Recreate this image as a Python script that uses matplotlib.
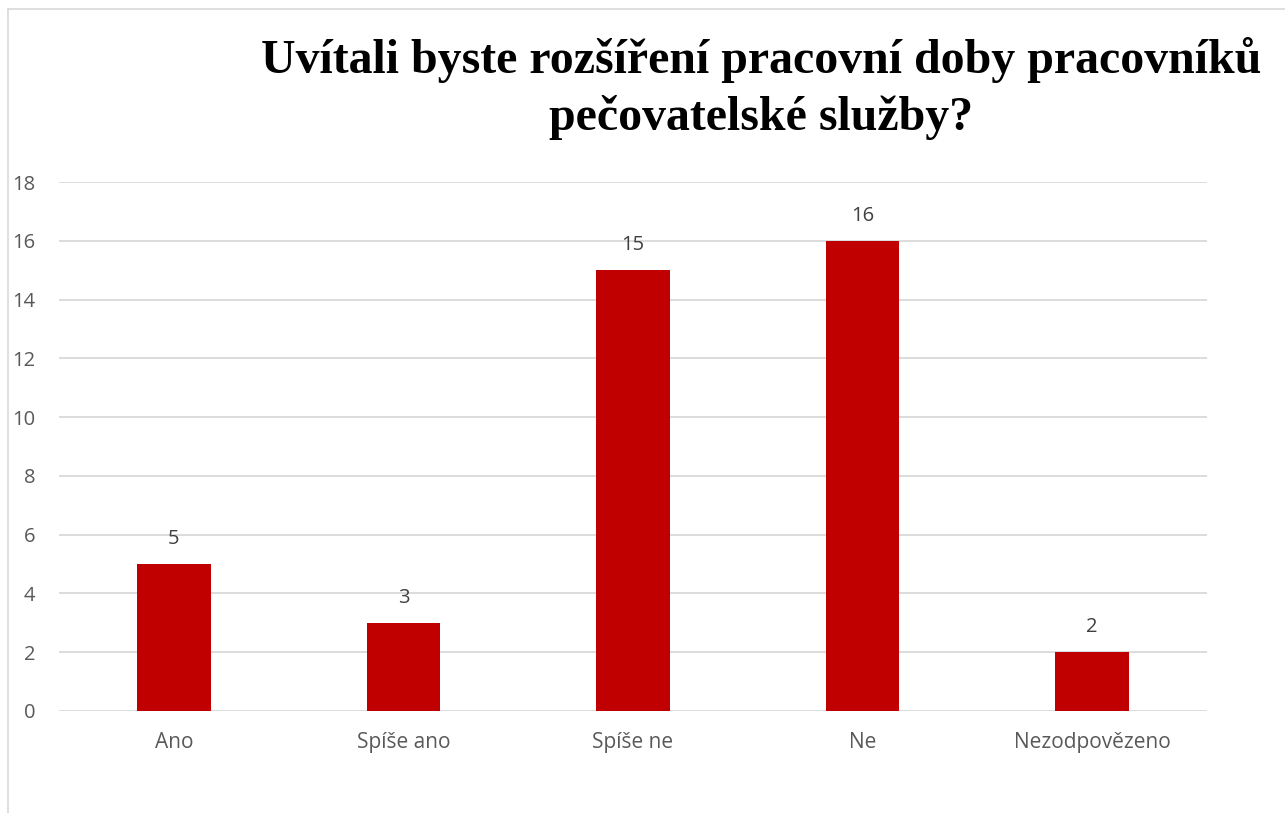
import matplotlib.pyplot as plt
from matplotlib.lines import Line2D

# answers to the survey question
categories = ["Ano", "Spíše ano", "Spíše ne", "Ne", "Nezodpovězeno"]
counts = [5, 3, 15, 16, 2]
y_ticks = [0, 2, 4, 6, 8, 10, 12, 14, 16, 18]
title_lines = ["Uvítali byste rozšíření pracovní doby pracovníků",
               "pečovatelské služby?"]

fig = plt.figure(figsize=(12.85, 8.13), dpi=100)
ax = fig.add_axes([0.0459, 0.1255, 0.8934, 0.6506])

# bars with value labels on top
x = list(range(len(categories)))
bars = ax.bar(x, counts, width=0.32, color="#C00000", zorder=3)
for rect, val in zip(bars, counts):
    ax.annotate(str(val), (rect.get_x() + rect.get_width() / 2, val),
                xytext=(0, 11), textcoords="offset points",
                ha="center", va="bottom", fontsize=14.5,
                family="Open Sans", color="#404040")

ax.set_xlim(-0.5, len(categories) - 0.5)
ax.set_ylim(0, 18)
ax.set_yticks(y_ticks)
ax.set_xticks(x)
ax.set_xticklabels(categories)
ax.yaxis.grid(True, color="#D9D9D9", linewidth=1.3, zorder=0)
ax.set_axisbelow(True)
for s in ax.spines.values():
    s.set_visible(False)
ax.tick_params(axis="both", length=0, labelcolor="#595959")
ax.tick_params(axis="y", pad=17, labelsize=14.5)
ax.tick_params(axis="x", pad=15, labelsize=15)
for lab in ax.get_xticklabels() + ax.get_yticklabels():
    lab.set_family("Open Sans")

# title, two lines centred over the right part like the original
for line, y in zip(title_lines, [1 - 73 / 813, 1 - 130 / 813]):
    fig.text(0.592, y, line, ha="center", va="baseline", fontsize=34.5,
             fontweight="bold", family="Liberation Serif")

# chart area border (cut off at right and bottom)
fig.add_artist(Line2D([8 / 1285, 8 / 1285], [0, 1 - 9 / 813],
                      color="#D9D9D9", linewidth=1.2))
fig.add_artist(Line2D([8 / 1285, 1], [1 - 9 / 813, 1 - 9 / 813],
                      color="#D9D9D9", linewidth=1.2))

fig.savefig("out.png", dpi=100)
